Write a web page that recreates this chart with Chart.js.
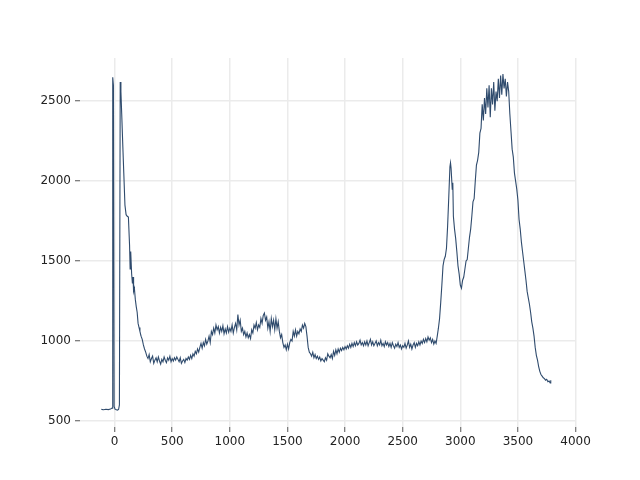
<!DOCTYPE html>
<html>
<head>
<meta charset="utf-8">
<script src="https://cdn.jsdelivr.net/npm/chart.js@4"></script>
<style>
  html, body { margin: 0; padding: 0; background: #ffffff; }
  #wrap { width: 640px; height: 480px; }
</style>
</head>
<body>
<div id="wrap"><canvas id="spectrum" width="640" height="480"></canvas></div>
<script>
// tick values shown on the axes
const xTicks = [0, 500, 1000, 1500, 2000, 2500, 3000, 3500, 4000];
const yTicks = [500, 1000, 1500, 2000, 2500];

// series (x position, value)
const xs = [
  -115, -95, -75, -55, -35, -22, -16, -10, -4, 5, 15, 25, 35, 42,
  49, 55, 62, 70, 80, 90, 100, 110, 120, 130, 135, 140, 148, 155, 160, 165, 172, 180, 188, 196,
  204, 212, 220, 230, 240, 250, 260, 270, 280, 290, 300, 310, 320, 330, 340, 350, 360, 370, 380, 390,
  400, 410, 420, 430, 440, 450, 460, 470, 480, 490, 500, 510, 520, 530, 540, 550, 560, 570, 580, 590,
  600, 610, 620, 630, 640, 650, 660, 670, 680, 690, 700, 710, 720, 730, 740, 750, 760, 770, 780, 790,
  800, 810, 820, 830, 840, 850, 860, 870, 880, 890, 900, 910, 920, 930, 940, 950, 960, 970, 980, 990,
  1000, 1010, 1020, 1030, 1040, 1050, 1060, 1070, 1080, 1090, 1100, 1110, 1120, 1130, 1140, 1150, 1160, 1170, 1180, 1190,
  1200, 1210, 1220, 1230, 1240, 1250, 1260, 1270, 1280, 1290, 1300, 1310, 1320, 1330, 1340, 1350, 1360, 1370, 1380, 1390,
  1400, 1410, 1420, 1430, 1440, 1450, 1460, 1470, 1480, 1490, 1500, 1510, 1520, 1530, 1540, 1550, 1560, 1570, 1580, 1590,
  1600, 1610, 1620, 1630, 1640, 1650, 1660, 1670, 1680, 1690, 1700, 1710, 1720, 1730, 1740, 1750, 1760, 1770, 1780, 1790,
  1800, 1810, 1820, 1830, 1840, 1850, 1860, 1870, 1880, 1890, 1900, 1910, 1920, 1930, 1940, 1950, 1960, 1970, 1980, 1990,
  2000, 2010, 2020, 2030, 2040, 2050, 2060, 2070, 2080, 2090, 2100, 2110, 2120, 2130, 2140, 2150, 2160, 2170, 2180, 2190,
  2200, 2210, 2220, 2230, 2240, 2250, 2260, 2270, 2280, 2290, 2300, 2310, 2320, 2330, 2340, 2350, 2360, 2370, 2380, 2390,
  2400, 2410, 2420, 2430, 2440, 2450, 2460, 2470, 2480, 2490, 2500, 2510, 2520, 2530, 2540, 2550, 2560, 2570, 2580, 2590,
  2600, 2610, 2620, 2630, 2640, 2650, 2660, 2670, 2680, 2690, 2700, 2710, 2720, 2730, 2740, 2750, 2760, 2770, 2780, 2790,
  2800, 2810, 2820, 2830, 2840, 2850, 2860, 2870, 2880, 2890, 2900, 2910, 2915, 2920, 2930, 2935, 2940, 2950, 2960, 2970,
  2980, 2990, 3000, 3010, 3020, 3030, 3040, 3050, 3060, 3070, 3080, 3090, 3100, 3110, 3120, 3130, 3140, 3150, 3160, 3170,
  3180, 3190, 3200, 3210, 3220, 3230, 3240, 3250, 3260, 3270, 3280, 3290, 3300, 3310, 3320, 3330, 3340, 3350, 3360, 3370,
  3380, 3390, 3400, 3410, 3420, 3430, 3440, 3450, 3460, 3470, 3480, 3490, 3500, 3510, 3520, 3530, 3540, 3550, 3560, 3570,
  3580, 3590, 3600, 3610, 3620, 3630, 3640, 3650, 3660, 3670, 3680, 3690, 3700, 3710, 3720, 3730, 3740, 3750, 3760, 3770,
  3780, 3785
];
const ys = [
  572, 570, 573, 571, 574, 580, 2650, 2600, 590, 572, 570, 568, 572, 600,
  2620, 2560, 2420, 2250, 2050, 1850, 1790, 1780, 1775, 1600, 1450, 1560, 1420, 1360, 1400, 1310, 1330, 1260, 1215, 1180,
  1110, 1085, 1060, 1030, 1010, 975, 950, 930, 905, 890, 915, 870, 890, 905, 860, 880, 895, 870, 900, 875,
  855, 885, 870, 900, 880, 865, 895, 880, 905, 870, 890, 875, 895, 880, 900, 885, 870, 895, 860, 875,
  885, 865, 890, 880, 900, 885, 910, 890, 920, 905, 935, 920, 950, 930, 960, 985, 955, 990, 970, 1010,
  980, 1000, 1030, 990, 1060, 1040, 1080, 1050, 1100, 1070, 1090, 1050, 1085, 1060, 1095, 1045, 1075, 1050, 1090, 1055,
  1080, 1060, 1100, 1050, 1085, 1110, 1070, 1165, 1100, 1130, 1060, 1080, 1040, 1060, 1025, 1050, 1020, 1040, 1015, 1070,
  1050, 1100, 1080, 1115, 1070, 1100, 1085, 1140, 1110, 1160, 1175, 1130, 1150, 1080, 1120, 1060, 1140, 1090, 1130, 1070,
  1140, 1080, 1120, 1060, 1020, 1040, 990, 960, 975, 945, 980, 950, 990, 1010, 1000, 1060, 1030, 1070, 1030, 1060,
  1045, 1075, 1060, 1100, 1080, 1110, 1090, 1030, 960, 930, 920, 905, 930, 895, 915, 890, 905, 885, 900, 875,
  890, 880, 870, 895, 880, 920, 905, 895, 915, 890, 935, 910, 945, 920, 950, 930, 955, 940, 960, 945,
  965, 950, 970, 955, 980, 960, 985, 965, 990, 970, 995, 975, 985, 1005, 975, 990, 970, 995, 975, 1000,
  970, 990, 1010, 975, 995, 970, 985, 1000, 970, 990, 975, 1005, 970, 985, 965, 995, 975, 990, 965, 985,
  960, 990, 970, 955, 980, 965, 990, 960, 975, 950, 970, 960, 985, 955, 975, 1000, 960, 980, 950, 975,
  990, 960, 985, 970, 995, 975, 1000, 985, 1010, 990, 1015, 995, 1025, 1005, 1020, 990, 1010, 980, 1000, 985,
  1030, 1080, 1140, 1240, 1350, 1470, 1510, 1530, 1580, 1720, 1900, 2090, 2115, 2080, 1950, 1990, 1780, 1700, 1640, 1560,
  1470, 1420, 1350, 1330, 1380, 1400, 1450, 1500, 1510, 1580, 1650, 1700, 1780, 1870, 1890, 2000, 2100, 2130, 2180, 2300,
  2330, 2480, 2380, 2520, 2420, 2580, 2460, 2600, 2400, 2580, 2480, 2620, 2440, 2560, 2500, 2640, 2520, 2660, 2540, 2670,
  2580, 2640, 2530, 2620, 2560, 2420, 2310, 2200, 2150, 2050, 2000, 1950, 1880, 1760, 1700, 1620, 1560, 1500, 1440, 1380,
  1310, 1270, 1230, 1180, 1120, 1080, 1030, 960, 910, 880, 840, 810, 790, 780, 770, 765, 755, 760, 745, 750,
  738, 755
];

const lineColor = '#2f4b6d';
const gridColor = '#ebebeb';

const points = xs.map((x, i) => ({ x: x, y: ys[i] }));

new Chart(document.getElementById('spectrum'), {
  type: 'line',
  data: {
    datasets: [{
      data: points,
      borderColor: lineColor,
      borderWidth: 1.1,
      pointRadius: 0,
      tension: 0,
      fill: false
    }]
  },
  options: {
    responsive: false,
    animation: false,
    layout: { padding: { top: 58, right: 64, left: 0, bottom: 0 } },
    plugins: { legend: { display: false }, tooltip: { enabled: false } },
    scales: {
      x: {
        type: 'linear',
        min: -300,
        max: 4004,
        afterBuildTicks: scale => { scale.ticks = xTicks.map(v => ({ value: v })); },
        afterFit: scale => { scale.height = 53; },
        border: { display: false },
        grid: { color: gridColor, lineWidth: 1.5, tickColor: '#555555', tickLength: 5, tickWidth: 1 },
        ticks: {
          color: '#222222',
          font: { family: 'DejaVu Sans', size: 12 },
          padding: 3,
          maxRotation: 0,
          callback: v => String(v)
        }
      },
      y: {
        type: 'linear',
        min: 462,
        max: 2770,
        afterBuildTicks: scale => { scale.ticks = yTicks.map(v => ({ value: v })); },
        afterFit: scale => { scale.width = 80; },
        border: { display: false },
        grid: { color: gridColor, lineWidth: 1.5, tickColor: '#555555', tickLength: 5, tickWidth: 1 },
        ticks: {
          color: '#222222',
          font: { family: 'DejaVu Sans', size: 12 },
          padding: 4,
          callback: v => String(v)
        }
      }
    }
  }
});
</script>
</body>
</html>
